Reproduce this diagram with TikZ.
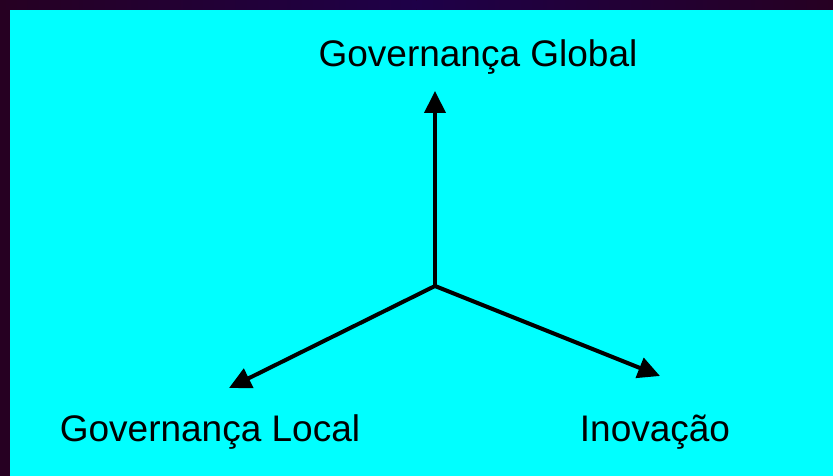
\documentclass[tikz,border=0pt]{standalone}
\usepackage{fontspec}
\setmainfont{Liberation Sans}
\usetikzlibrary{arrows.meta}
\definecolor{frameL}{RGB}{38,0,34}
\definecolor{frameM}{RGB}{30,0,72}
\definecolor{panel}{RGB}{0,255,255}
\tikzset{
  axis/.style={line width=4pt, -{Triangle[length=22pt,width=21pt]}},
  lbl/.style={font=\fontsize{37}{40}\selectfont, anchor=base, inner sep=0pt}
}
\begin{document}
\begin{tikzpicture}[x=1pt,y=-1pt]
  \useasboundingbox (0,0) rectangle (833,476);
  % dark frame with a shaded top band
  \fill[frameL] (0,0) rectangle (833,476);
  \shade[left color=frameL, right color=frameM] (0,0) rectangle (416.5,10);
  \shade[left color=frameM, right color=frameL] (416.5,0) rectangle (833,10);
  \fill[panel] (10,10) rectangle (833,476);
  % axes
  \coordinate (o) at (435,286);
  \coordinate (top) at (435,91);
  \coordinate (left) at (229,388);
  \coordinate (right) at (660,376);
  \draw[axis] (o) -- (top);
  \draw[axis] (o) -- (left);
  \draw[axis] (o) -- (right);
  % labels
  \node[lbl] (global) at (478,67) {Governança Global};
  \node[lbl] (local) at (210,441) {Governança Local};
  \node[lbl] (inov) at (655,441) {Inovação};
\end{tikzpicture}
\end{document}
